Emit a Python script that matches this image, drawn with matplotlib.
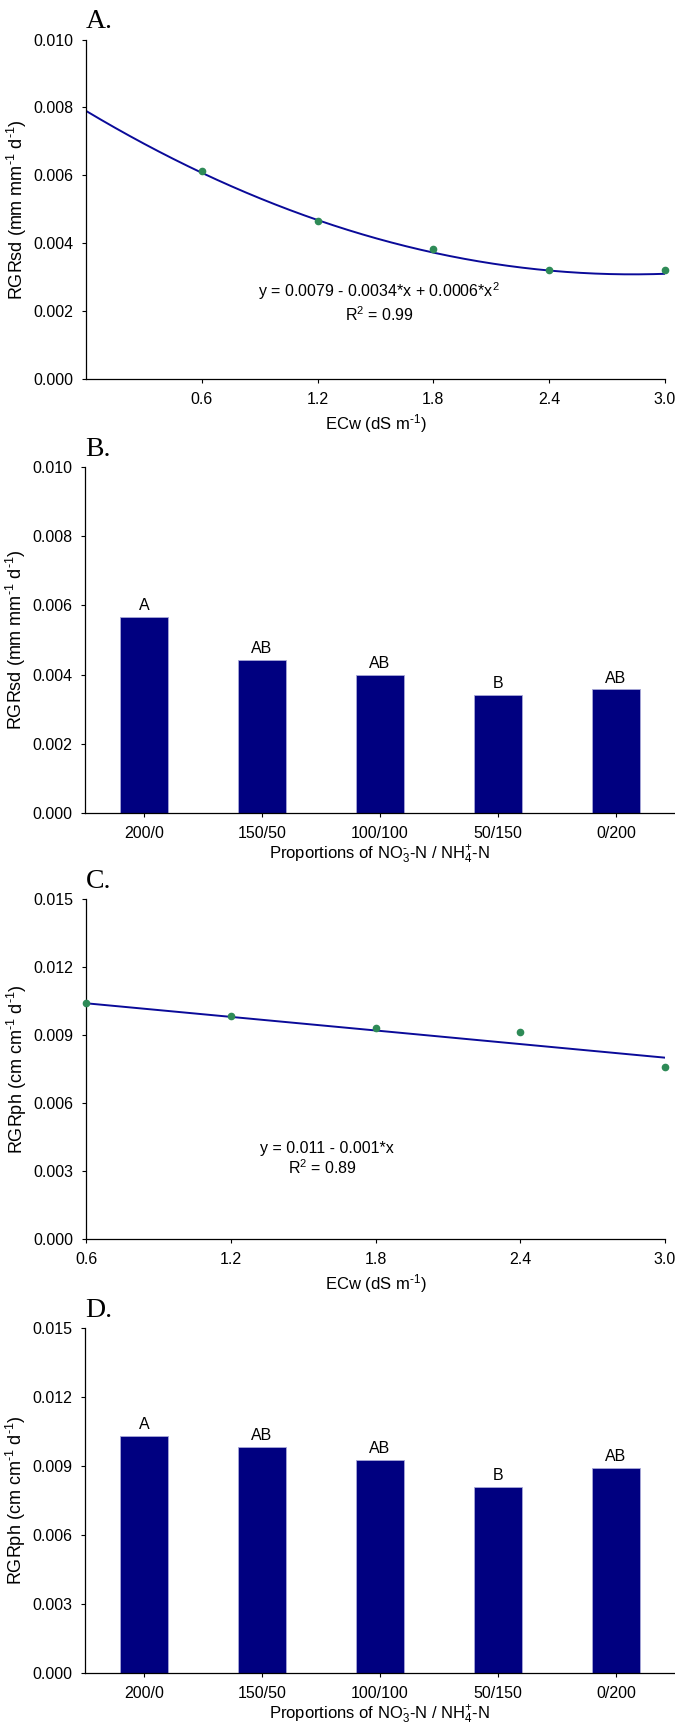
import numpy as np
import matplotlib
matplotlib.use("Agg")
import matplotlib.pyplot as plt
from matplotlib.ticker import FormatStrFormatter

plt.rcParams['font.family'] = ['Liberation Sans', 'DejaVu Sans']
plt.rcParams['mathtext.fontset'] = 'custom'
plt.rcParams['mathtext.rm'] = 'Liberation Sans'
plt.rcParams['mathtext.it'] = 'Liberation Sans:italic'
plt.rcParams['font.size'] = 11.5

# data
ecw = [0.6, 1.2, 1.8, 2.4, 3.0]
rgrsd_ecw = [0.00612, 0.00467, 0.00384, 0.00321, 0.00321]
rgrph_ecw = [0.01042, 0.00983, 0.00929, 0.00915, 0.00760]
fit_sd = [0.0079, -0.0034, 0.0006]   # y = a + b*x + c*x^2
fit_ph = [0.011, -0.001]             # y = a + b*x

proportions = ["200/0", "150/50", "100/100", "50/150", "0/200"]
rgrsd_n = [0.00567, 0.00441, 0.00400, 0.00342, 0.00357]
rgrph_n = [0.01030, 0.00982, 0.00926, 0.00809, 0.00892]
letters_sd = ["A", "AB", "AB", "B", "AB"]
letters_ph = ["A", "AB", "AB", "B", "AB"]

line_c = "#0a0a99"
dot_c = "#2e8b57"
bar_c = "#000080"

fig = plt.figure(figsize=(6.75, 17.23), dpi=100)
H = 1723.0
W = 675.0


def make_ax(left, top, right, bottom):
    return fig.add_axes([left / W, 1 - bottom / H, (right - left) / W, (bottom - top) / H])


def style(ax, panel):
    for s in ["top", "right"]:
        ax.spines[s].set_visible(False)
    for s in ["left", "bottom"]:
        ax.spines[s].set_linewidth(0.9)
    ax.tick_params(direction="out", length=3, width=0.8, pad=6)
    ax.yaxis.set_major_formatter(FormatStrFormatter("%.3f"))
    ax.annotate(panel, xy=(0, 1), xycoords="axes fraction", xytext=(0, 8),
                textcoords="offset points", ha="left", va="baseline",
                fontsize=20, family="Liberation Serif")


ecw_label = r"ECw (dS m$^{\text{-1}}$)"
prop_label = r"Proportions of NO$_3^{\text{-}}$-N / NH$_4^{\text{+}}$-N"
sd_label = r"RGRsd (mm mm$^{\text{-1}}$ d$^{\text{-1}}$)"
ph_label = r"RGRph (cm cm$^{\text{-1}}$ d$^{\text{-1}}$)"

# A
axA = make_ax(86, 39.6, 665, 379)
xs = np.linspace(0, 3.0, 200)
axA.plot(xs, fit_sd[0] + fit_sd[1] * xs + fit_sd[2] * xs ** 2, color=line_c, lw=1.4)
axA.plot(ecw, rgrsd_ecw, "o", color=dot_c, ms=4.5, clip_on=False, zorder=3)
axA.set_xlim(0, 3.0)
axA.set_ylim(0, 0.010)
axA.set_xticks(ecw)
axA.xaxis.set_major_formatter(FormatStrFormatter("%.1f"))
axA.set_yticks(np.arange(0, 0.0101, 0.002))
axA.set_xlabel(ecw_label, labelpad=4, fontsize=12)
axA.set_ylabel(sd_label, labelpad=3, fontsize=13)
axA.text(1.52, 0.0026, r"y = 0.0079 - 0.0034*x + 0.0006*x$^2$", ha="center", va="center")
axA.text(1.52, 0.00189, r"R$^2$ = 0.99", ha="center", va="center")
style(axA, "A.")

# B
axB = make_ax(85, 467, 675, 813)
pos = np.arange(len(proportions))
axB.bar(pos, rgrsd_n, width=0.41, color=bar_c, edgecolor="#a8a8d8", linewidth=0.6)
for p, v, t in zip(pos, rgrsd_n, letters_sd):
    axB.annotate(t, xy=(p, v), xytext=(0, 5), textcoords="offset points",
                 ha="center", va="baseline")
axB.set_xlim(-0.5, 4.5)
axB.set_ylim(0, 0.010)
axB.set_xticks(pos)
axB.set_xticklabels(proportions)
axB.set_yticks(np.arange(0, 0.0101, 0.002))
axB.set_xlabel(prop_label, labelpad=2, fontsize=12)
axB.set_ylabel(sd_label, labelpad=3, fontsize=13)
style(axB, "B.")

# C
axC = make_ax(86, 899, 665, 1239)
xl = np.array([0.6, 3.0])
axC.plot(xl, fit_ph[0] + fit_ph[1] * xl, color=line_c, lw=1.4)
axC.plot(ecw, rgrph_ecw, "o", color=dot_c, ms=4.5, clip_on=False, zorder=3)
axC.set_xlim(0.6, 3.0)
axC.set_ylim(0, 0.015)
axC.set_xticks(ecw)
axC.xaxis.set_major_formatter(FormatStrFormatter("%.1f"))
axC.set_yticks(np.arange(0, 0.0151, 0.003))
axC.set_xlabel(ecw_label, labelpad=4, fontsize=12)
axC.set_ylabel(ph_label, labelpad=3, fontsize=13)
axC.text(1.6, 0.00401, "y = 0.011 - 0.001*x", ha="center", va="center")
axC.text(1.58, 0.00313, r"R$^2$ = 0.89", ha="center", va="center")
style(axC, "C.")

# D
axD = make_ax(85, 1328, 675, 1673)
axD.bar(pos, rgrph_n, width=0.41, color=bar_c, edgecolor="#a8a8d8", linewidth=0.6)
for p, v, t in zip(pos, rgrph_n, letters_ph):
    axD.annotate(t, xy=(p, v), xytext=(0, 5), textcoords="offset points",
                 ha="center", va="baseline")
axD.set_xlim(-0.5, 4.5)
axD.set_ylim(0, 0.015)
axD.set_xticks(pos)
axD.set_xticklabels(proportions)
axD.set_yticks(np.arange(0, 0.0151, 0.003))
axD.set_xlabel(prop_label, labelpad=2, fontsize=12)
axD.set_ylabel(ph_label, labelpad=3, fontsize=13)
style(axD, "D.")

fig.savefig("out.png", dpi=100)
